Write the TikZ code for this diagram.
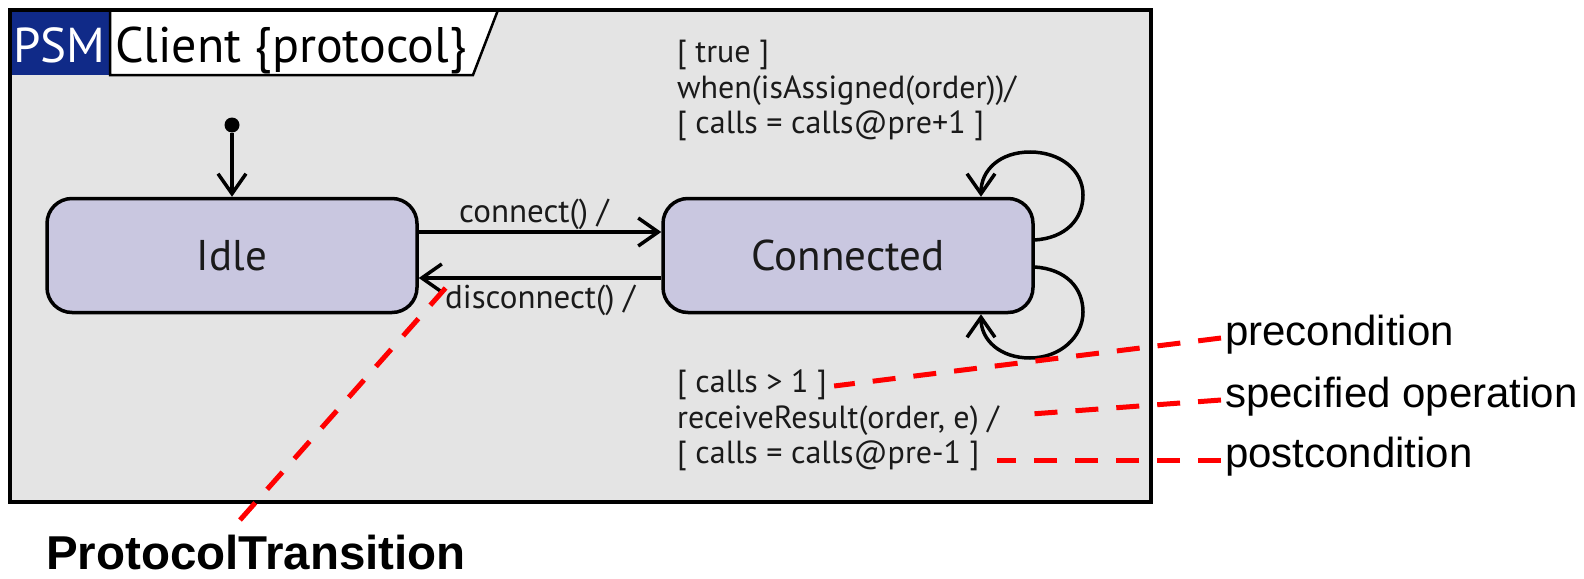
\documentclass[tikz,border=0pt]{standalone}
\usepackage{fontspec}
\setmainfont{PT Sans}
\newfontfamily\arialf{Liberation Sans}
\usetikzlibrary{arrows.meta}
\definecolor{framegray}{HTML}{E4E4E4}
\definecolor{psmblue}{HTML}{102A88}
\definecolor{statefill}{HTML}{C9C7E0}
\definecolor{annred}{HTML}{FF0000}
\definecolor{txt}{HTML}{1A1A1A}
\begin{document}
\begin{tikzpicture}[x=1pt,y=-1pt,
  statebox/.style={draw=black, line width=3.5pt, fill=statefill, rounded corners=25pt,
    minimum width=370pt, minimum height=114pt, inner sep=0pt, text=txt,
    font=\fontsize{43}{48}\selectfont},
  trans/.style={line width=3.5pt, -{Straight Barb[length=20pt,width=28pt,line width=3.5pt]}},
  lbl/.style={anchor=base west, inner sep=0pt, font=\fontsize{32}{37}\selectfont, text=txt},
  ann/.style={anchor=base west, inner sep=0pt, font=\arialf\fontsize{42}{48}\selectfont},
  redline/.style={draw=annred, line width=5pt, dash pattern=on 23pt off 18pt}
]
\useasboundingbox (0,0) rectangle (1584,578);
% frame
\draw[fill=framegray, line width=3.5pt] (10,10) rectangle (1151,502);
\fill[psmblue] (10,10) rectangle (110,75);
\draw[fill=white, line width=2.5pt] (110,10) -- (498,10) -- (473,75) -- (110,75) -- cycle;
\draw[line width=3.5pt] (10,10) rectangle (1151,502);
\node[anchor=base west, inner sep=0pt, text=white, font=\fontsize{49}{54}\selectfont] (psm) at (13,63) {PSM};
\node[anchor=base west, inner sep=0pt, text=black, font=\fontsize{50}{55}\selectfont] (title) at (115,63) {Client \{protocol\}};

% states
\node[statebox] (idle) at (232,255.5) {Idle};
\node[statebox] (con) at (848,255.5) {Connected};
\node[circle, fill=black, minimum size=15pt, inner sep=0pt] (init) at (232,125) {};

\draw[trans] (init) -- (idle);
\draw[trans] ([yshift=23.5pt]idle.east) -- ([yshift=23.5pt]con.west);
\draw[trans] ([yshift=-22.5pt]con.west) -- ([yshift=-22.5pt]idle.east);

\draw[trans] ([yshift=15.5pt]con.east) .. controls (1065,238) and (1083,220) .. (1083,195)
  .. controls (1083,170) and (1060,152) .. (1030,152)
  .. controls (1000,152) and (981,170) .. ([xshift=133pt]con.north);
\draw[trans] ([yshift=-11.5pt]con.east) .. controls (1065,269) and (1083,287) .. (1083,312)
  .. controls (1083,337) and (1060,358) .. (1030,358)
  .. controls (1000,358) and (981,340) .. ([xshift=133pt]con.south);

% transition labels
\node[lbl, font=\fontsize{33}{38}\selectfont] (lconn) at (459,222) {connect() /};
\node[lbl, font=\fontsize{33}{38}\selectfont] (ldisc) at (445,308) {disconnect() /};
\node[lbl] (t1) at (677,63) {[ true ]};
\node[lbl] (t2) at (677,98) {when(isAssigned(order))/};
\node[lbl] (t3) at (677,133) {[ calls = calls@pre+1 ]};
\node[lbl] (b1) at (677,392) {[ calls > 1 ]};
\node[lbl] (b2) at (677,428) {receiveResult(order, e) /};
\node[lbl] (b3) at (677,463) {[ calls = calls@pre-1 ]};

% annotations
\node[ann] (pre) at (1225,345) {precondition};
\node[ann] (op) at (1225,407) {specified operation};
\node[ann] (post) at (1225,467) {postcondition};
\node[anchor=base west, inner sep=0pt, font=\arialf\bfseries\fontsize{47.5}{52}\selectfont] (pt) at (46,569) {ProtocolTransition};

\coordinate (ptop) at (450,283);
\coordinate (pbot) at (240,520);
\draw[redline] (pbot) -- (ptop);
\draw[redline] ([xshift=-4pt,yshift=7pt]pre.base west) -- ([xshift=7pt,yshift=6pt]b1.base east);
\draw[redline] ([xshift=-4pt,yshift=7pt]op.base west) -- ([xshift=19pt,yshift=13pt]b2.base east);
\draw[redline] ([xshift=-4pt,yshift=7pt]post.base west) -- ([xshift=17pt,yshift=3pt]b3.base east);
\end{tikzpicture}
\end{document}
